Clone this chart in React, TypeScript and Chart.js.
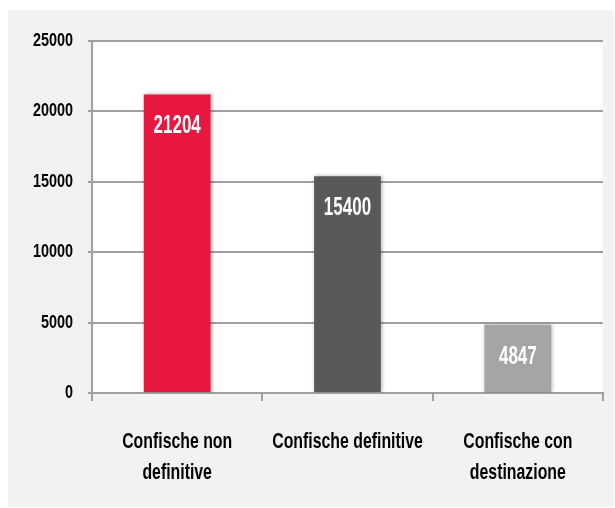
import React, { useEffect, useRef } from "react";
import { Chart, registerables } from "chart.js";

Chart.register(...registerables);

const categories: string[][] = [
  ["Confische non", "definitive"],
  ["Confische definitive"],
  ["Confische con", "destinazione"],
];
const values: number[] = [21204, 15400, 4847];
const barColors: string[] = ["#E8173F", "#595959", "#A5A5A5"];
const yTicks: number[] = [0, 5000, 10000, 15000, 20000, 25000];

const FONT = "'Liberation Sans', Arial, sans-serif";
const GRID = "#a0a0a0";

function drawNarrow(ctx: any, text: string, x: number, y: number, size: number, sx: number, align: string, color: string) {
  ctx.save();
  ctx.translate(x, y);
  ctx.scale(sx, 1);
  ctx.font = `bold ${size}px ${FONT}`;
  ctx.fillStyle = color;
  ctx.textAlign = align;
  ctx.textBaseline = "middle";
  ctx.fillText(text, 0, 0);
  ctx.restore();
}

const plotBg = {
  id: "plotBg",
  beforeDraw(chart: any) {
    const { ctx, chartArea } = chart;
    ctx.save();
    ctx.fillStyle = "#ffffff";
    ctx.fillRect(chartArea.left, chartArea.top, chartArea.right - chartArea.left, chartArea.bottom - chartArea.top);
    ctx.restore();
  },
};

const barShadow = {
  id: "barShadow",
  beforeDatasetDraw(chart: any) {
    const ctx = chart.ctx;
    ctx.save();
    ctx.shadowColor = "rgba(0,0,0,0.3)";
    ctx.shadowBlur = 4;
    ctx.shadowOffsetX = 1;
    ctx.shadowOffsetY = 0;
  },
  afterDatasetDraw(chart: any) {
    chart.ctx.restore();
  },
};

const textLayer = {
  id: "textLayer",
  afterDraw(chart: any) {
    const ctx = chart.ctx;
    const meta = chart.getDatasetMeta(0);
    const data = chart.data.datasets[0].data as number[];
    meta.data.forEach((el: any, i: number) => {
      drawNarrow(ctx, String(data[i]), el.x, el.y + 32, 25, 0.68, "center", "#ffffff");
    });
    const yScale = chart.scales.y;
    yScale.ticks.forEach((t: any) => {
      const py = yScale.getPixelForValue(t.value);
      drawNarrow(ctx, String(t.value), yScale.right - 19, py, 18, 0.8, "right", "#000000");
    });
    const xScale = chart.scales.x;
    const labels = chart.data.labels as string[][];
    labels.forEach((lines, i) => {
      const px = xScale.getPixelForValue(i);
      lines.forEach((line, j) => {
        drawNarrow(ctx, line, px, xScale.top + 49 + j * 31, 22, 0.72, "center", "#000000");
      });
    });
  },
};

export default function App() {
  const ref = useRef<HTMLCanvasElement | null>(null);
  useEffect(() => {
    if (!ref.current) return;
    const chart = new Chart(ref.current, {
      type: "bar",
      data: {
        labels: categories,
        datasets: [
          {
            data: values,
            backgroundColor: barColors,
            borderWidth: 0,
            barPercentage: 0.4,
            categoryPercentage: 0.98,
          },
        ],
      },
      options: {
        animation: false,
        responsive: false,
        devicePixelRatio: 1,
        layout: { padding: { top: 31, right: 11, left: 0, bottom: 0 } },
        plugins: { legend: { display: false }, tooltip: { enabled: false } },
        scales: {
          x: {
            offset: true,
            afterFit(scale: any) {
              scale.height = 114;
            },
            grid: {
              display: true,
              drawOnChartArea: false,
              drawTicks: true,
              tickLength: 8,
              offset: true,
              color: GRID,
              lineWidth: 2,
            },
            border: { display: true, color: GRID, width: 2 },
            ticks: { display: false, autoSkip: false, maxRotation: 0 },
          },
          y: {
            min: yTicks[0],
            max: yTicks[yTicks.length - 1],
            afterFit(scale: any) {
              scale.width = 84;
            },
            afterBuildTicks(scale: any) {
              scale.ticks = yTicks.map((v) => ({ value: v }));
            },
            grid: {
              color: GRID,
              lineWidth: 2,
              drawTicks: true,
              tickLength: 4,
            },
            border: { display: true, color: GRID, width: 2 },
            ticks: { display: false },
          },
        },
      },
      plugins: [plotBg, barShadow, textLayer],
    });
    return () => chart.destroy();
  }, []);

  return (
    <div
      style={{
        position: "absolute",
        left: 8,
        top: 10,
        width: 606,
        height: 497,
        background: "#f2f2f2",
      }}
    >
      <canvas ref={ref} width={606} height={497} style={{ display: "block" }} />
    </div>
  );
}
